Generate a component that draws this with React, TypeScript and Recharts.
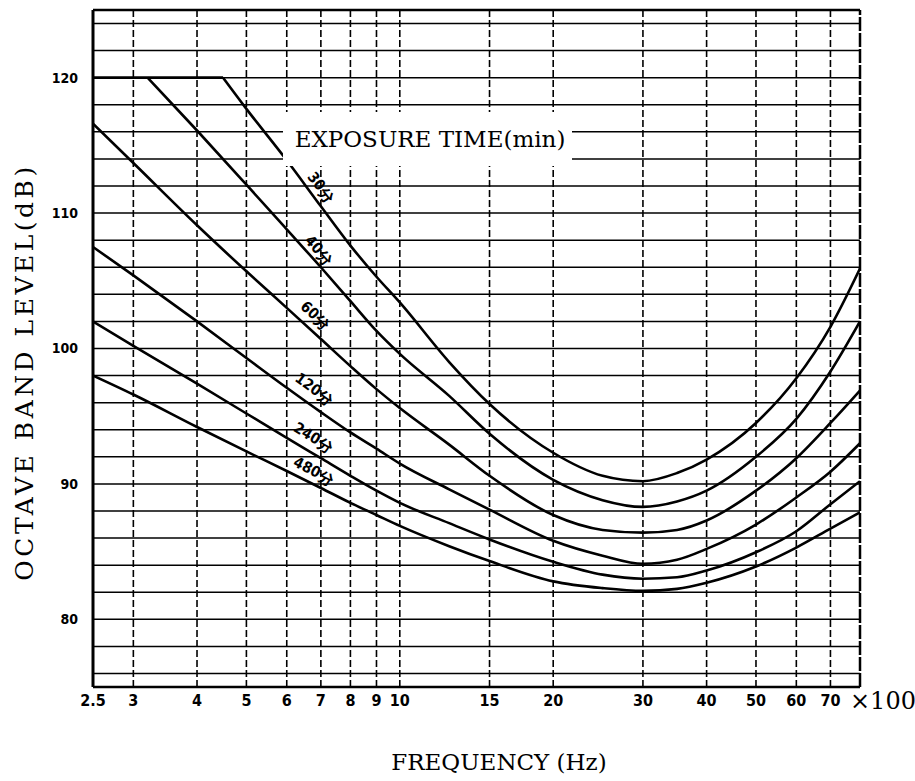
import React from 'react';
import { LineChart, Line, XAxis, YAxis, CartesianGrid, ReferenceLine } from 'recharts';

// frequency in units of x100 Hz, level in dB
const freqTicks = [2.5, 3, 4, 5, 6, 7, 8, 9, 10, 15, 20, 30, 40, 50, 60, 70];
const freqGrid = [3, 4, 5, 6, 7, 8, 9, 10, 15, 20, 30, 40, 50, 60, 70];
const levelTicks = [80, 90, 100, 110, 120];
const levelGrid = Array.from({ length: 50 }, (_, i) => 75 + i);

// common flat top at 120 dB shared by the 30 and 40 min curves
const flatFreq = [2.5, 4.5];
const flatLevel = [120, 120];

const freq30 = [4.5, 5, 6, 7, 8, 9, 10, 12.5, 15, 20, 25, 30, 35, 40, 50, 60, 70, 80];
const level30 = [120, 117.7, 113.9, 110.5, 107.6, 105.3, 103.4, 99.0, 95.9, 92.3, 90.6, 90.2, 90.8, 91.8, 94.5, 97.8, 101.6, 105.9];

const freq40 = [3.2, 4, 5, 6, 7, 8, 9, 10, 12.5, 15, 20, 25, 30, 35, 40, 50, 60, 70, 80];
const level40 = [120, 116.1, 112.1, 108.8, 106.0, 103.5, 101.3, 99.6, 96.5, 93.7, 90.3, 88.8, 88.3, 88.7, 89.5, 92.0, 94.8, 98.3, 102.0];

const freqLow = [2.5, 3, 4, 5, 6, 7, 8, 9, 10, 12.5, 15, 20, 25, 30, 35, 40, 50, 60, 70, 80];
const level60 = [116.6, 113.7, 109.1, 105.7, 103.0, 100.7, 98.7, 97.0, 95.6, 92.9, 90.6, 87.7, 86.6, 86.4, 86.6, 87.3, 89.5, 91.9, 94.5, 96.9];
const level120 = [107.5, 105.4, 102.0, 99.3, 97.1, 95.3, 93.8, 92.6, 91.5, 89.6, 88.1, 85.8, 84.7, 84.1, 84.4, 85.2, 87.0, 89.0, 90.9, 93.0];
const level240 = [102.0, 100.2, 97.4, 95.2, 93.4, 91.9, 90.6, 89.5, 88.6, 87.1, 85.9, 84.25, 83.3, 83.0, 83.1, 83.6, 84.95, 86.5, 88.5, 90.2];
const level480 = [98.0, 96.6, 94.2, 92.4, 90.95, 89.7, 88.6, 87.7, 86.9, 85.4, 84.3, 82.8, 82.3, 82.1, 82.25, 82.7, 83.9, 85.3, 86.7, 87.9];

const labelFreq = 7;

type Series = {
  minutes: string;
  freq: number[];
  level: number[];
  angle: number;
  along: number;
  normal: number;
};

const series: Series[] = [
  { minutes: '30', freq: freq30, level: level30, angle: 52, along: -15, normal: 12 },
  { minutes: '40', freq: freq40, level: level40, angle: 48, along: -14, normal: 10 },
  { minutes: '60', freq: freqLow, level: level60, angle: 42, along: -20, normal: 14 },
  { minutes: '120', freq: freqLow, level: level120, angle: 36, along: -19, normal: 15 },
  { minutes: '240', freq: freqLow, level: level240, angle: 31, along: -17, normal: 14 },
  { minutes: '480', freq: freqLow, level: level480, angle: 27, along: -14, normal: 12 },
];

const toPoints = (f: number[], l: number[]) => f.map((v, i) => ({ f: v, level: l[i] }));

const tickFont = "'Liberation Sans Narrow', 'DejaVu Sans Condensed', sans-serif";
const cjkFont = "'Noto Sans CJK JP', 'Noto Sans CJK SC', sans-serif";
const titleFont = "'DejaVu Serif', 'Liberation Serif', serif";

const makeDot = (s: Series) => (props: any) => {
  const { cx, cy, index } = props;
  if (s.freq[index] !== labelFreq || cx == null || cy == null) return <g key={`d-${s.minutes}-${index}`} />;
  return (
    <text
      key={`d-${s.minutes}-${index}`}
      transform={`translate(${cx},${cy}) rotate(${s.angle}) translate(${s.along},${-s.normal})`}
      textAnchor="middle"
      dominantBaseline="central"
      fontWeight="bold"
      fontSize={15}
      fill="#000"
    >
      <tspan fontFamily={tickFont}>{s.minutes}</tspan>
      <tspan fontFamily={cjkFont}>分</tspan>
    </text>
  );
};

const App: React.FC = () => {
  return (
    <div style={{ position: 'absolute', left: 0, top: 0, width: 915, height: 781, background: '#fff' }}>
      <LineChart width={915} height={781} margin={{ top: 10, right: 55, bottom: 64, left: 53 }}>
        <CartesianGrid vertical={false} horizontalValues={levelGrid} stroke="#000" strokeWidth={1.5} />
        <CartesianGrid horizontal={false} verticalValues={freqGrid} stroke="#000" strokeWidth={1.6} strokeDasharray="7 3" />
        <XAxis
          dataKey="f"
          type="number"
          scale="log"
          domain={[2.5, 80]}
          ticks={freqTicks}
          allowDataOverflow
          height={30}
          tickLine={false}
          axisLine={{ stroke: '#000', strokeWidth: 2.5 }}
          tick={{ fontFamily: tickFont, fontWeight: 'bold', fontSize: 16, fill: '#000' }}
        />
        <YAxis
          dataKey="level"
          type="number"
          domain={[75, 125]}
          ticks={levelTicks}
          allowDataOverflow
          width={40}
          tickLine={false}
          tickMargin={9}
          axisLine={{ stroke: '#000', strokeWidth: 3 }}
          tick={{ fontFamily: tickFont, fontWeight: 'bold', fontSize: 14, fill: '#000' }}
        />
        <ReferenceLine y={125} stroke="#000" strokeWidth={2.5} />
        <ReferenceLine x={80} stroke="#000" strokeWidth={2.5} strokeDasharray="14 2" />
        <Line
          data={toPoints(flatFreq, flatLevel)}
          dataKey="level"
          type="linear"
          stroke="#000"
          strokeWidth={2.8}
          dot={false}
          isAnimationActive={false}
        />
        {series.map(s => (
          <Line
            key={s.minutes}
            data={toPoints(s.freq, s.level)}
            dataKey="level"
            name={`${s.minutes}分`}
            type="monotoneX"
            stroke="#000"
            strokeWidth={2.6}
            dot={makeDot(s)}
            activeDot={false}
            isAnimationActive={false}
          />
        ))}
      </LineChart>
      <svg
        width={915}
        height={781}
        style={{ position: 'absolute', left: 0, top: 0, pointerEvents: 'none' }}
      >
        <rect x={283} y={112} width={289} height={54} fill="#fff" />
        <text x={430} y={139} textAnchor="middle" dominantBaseline="central" fontFamily={titleFont} fontSize={23} fill="#000">
          EXPOSURE TIME(min)
        </text>
        <text
          x={24}
          y={372}
          transform="rotate(-90 24 372)"
          textAnchor="middle"
          dominantBaseline="central"
          fontFamily={titleFont}
          fontSize={25}
          letterSpacing={3.5}
          fill="#000"
        >
          OCTAVE BAND LEVEL(dB)
        </text>
        <text x={499} y={762} textAnchor="middle" dominantBaseline="central" fontFamily={titleFont} fontSize={23} fill="#000">
          FREQUENCY (Hz)
        </text>
        <text x={850} y={701} dominantBaseline="central" fontFamily={titleFont} fontSize={24} fill="#000">
          ×100
        </text>
      </svg>
    </div>
  );
};

export default App;
